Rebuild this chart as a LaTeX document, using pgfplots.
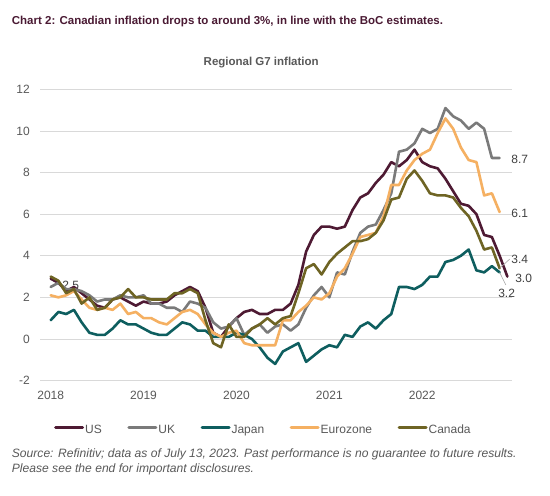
\documentclass[border=0pt]{standalone}
\usepackage{fontspec}
\setmainfont{Liberation Sans}
\usepackage{pgfplots}
\usepackage{pgfplotstable}
\pgfplotsset{compat=1.18}
\definecolor{cUS}{HTML}{4E1A33}
\definecolor{cUK}{HTML}{7A7A7A}
\definecolor{cJP}{HTML}{0E5E5F}
\definecolor{cEZ}{HTML}{F5B062}
\definecolor{cCA}{HTML}{6E6424}
\definecolor{ctitle}{HTML}{4A1A33}
\definecolor{ctxt}{HTML}{595959}
\definecolor{clab}{HTML}{404040}
\definecolor{cgrid}{HTML}{D9D9D9}

% index 0 = Jul 2018, 59 = Jun 2023
\pgfplotstableread{
i US UK JP EZ CA
0 2.9 2.5 0.9 2.1 3.0
1 2.7 2.7 1.3 2.0 2.8
2 2.3 2.4 1.2 2.1 2.2
3 2.5 2.4 1.4 2.3 2.4
4 2.2 2.3 0.8 1.9 1.7
5 1.9 2.1 0.3 1.5 2.0
6 1.6 1.8 0.2 1.4 1.4
7 1.5 1.9 0.2 1.5 1.5
8 1.9 1.9 0.5 1.4 1.9
9 2.0 2.1 0.9 1.7 2.0
10 1.8 2.0 0.7 1.2 2.4
11 1.6 2.0 0.7 1.3 2.0
12 1.8 2.1 0.5 1.0 2.0
13 1.7 1.7 0.3 1.0 1.9
14 1.7 1.7 0.2 0.8 1.9
15 1.8 1.5 0.2 0.7 1.9
16 2.1 1.5 0.5 1.0 2.2
17 2.3 1.3 0.8 1.3 2.2
18 2.5 1.8 0.7 1.4 2.4
19 2.3 1.7 0.4 1.2 2.2
20 1.5 1.5 0.4 0.7 0.9
21 0.3 0.8 0.1 0.3 -0.2
22 0.1 0.5 0.1 0.1 -0.4
23 0.6 0.6 0.1 0.3 0.7
24 1.0 1.0 0.3 0.4 0.1
25 1.3 0.2 0.2 -0.2 0.1
26 1.4 0.5 0.0 -0.3 0.5
27 1.2 0.7 -0.4 -0.3 0.7
28 1.2 0.3 -0.9 -0.3 1.0
29 1.4 0.6 -1.2 -0.3 0.7
30 1.4 0.7 -0.6 0.9 1.0
31 1.7 0.4 -0.4 0.9 1.1
32 2.6 0.7 -0.2 1.3 2.2
33 4.2 1.5 -1.1 1.6 3.4
34 5.0 2.1 -0.8 2.0 3.6
35 5.4 2.5 -0.5 1.9 3.1
36 5.4 2.0 -0.3 2.2 3.7
37 5.3 3.2 -0.4 3.0 4.1
38 5.4 3.1 0.2 3.4 4.4
39 6.2 4.2 0.1 4.1 4.7
40 6.8 5.1 0.6 4.9 4.7
41 7.0 5.4 0.8 5.0 4.8
42 7.5 5.5 0.5 5.1 5.1
43 7.9 6.2 0.9 5.9 5.7
44 8.5 7.0 1.2 7.4 6.7
45 8.3 9.0 2.5 7.4 6.8
46 8.6 9.1 2.5 8.1 7.7
47 9.1 9.4 2.4 8.6 8.1
48 8.5 10.1 2.6 8.9 7.6
49 8.3 9.9 3.0 9.1 7.0
50 8.2 10.1 3.0 9.9 6.9
51 7.7 11.1 3.7 10.6 6.9
52 7.1 10.7 3.8 10.1 6.8
53 6.5 10.5 4.0 9.2 6.3
54 6.4 10.1 4.3 8.6 5.9
55 6.0 10.4 3.3 8.5 5.2
56 5.0 10.1 3.2 6.9 4.3
57 4.9 8.7 3.5 7.0 4.4
58 4.0 8.7 3.2 6.1 3.4
59 3.0 nan nan nan nan
}\data

\begin{document}
\begin{tikzpicture}
\path[use as bounding box, fill=white] (0,0) rectangle (550bp,-496bp);
\node[anchor=base west, inner sep=0pt, text=ctitle, font=\fontsize{11.5bp}{14bp}\selectfont\bfseries] at (11.7bp,-24bp) {Chart 2: Canadian inflation drops to around 3\%, in line with the BoC estimates.};
\node[anchor=base, inner sep=0pt, text=ctxt, font=\fontsize{11.5bp}{14bp}\selectfont\bfseries] at (261.2bp,-65bp) {Regional G7 inflation};
\node[anchor=base west, inner sep=0pt, text=ctxt, font=\fontsize{12.1bp}{14bp}\selectfont\itshape] at (11.7bp,-457bp) {Source: Refinitiv; data as of July 13, 2023. Past performance is no guarantee to future results.};
\node[anchor=base west, inner sep=0pt, text=ctxt, font=\fontsize{12.1bp}{14bp}\selectfont\itshape] at (11.7bp,-472bp) {Please see the end for important disclosures.};
\begin{axis}[
  at={(40bp,-380.6bp)}, anchor=south west,
  scale only axis, width=471.7bp, height=291.3bp,
  xmin=-1.38, xmax=59.56, ymin=-2, ymax=12,
  clip=false,
  axis line style={draw=none},
  ymajorgrids, grid style={cgrid, line width=0.75bp},
  ytick={-2,0,...,12},
  xtick={0,12,24,36,48},
  xticklabels={2018,2019,2020,2021,2022},
  tick pos=left,
  major tick length=0pt,
  /pgf/number format/assume math mode=true,
  ticklabel style={font=\fontsize{12bp}{14bp}\selectfont, text=ctxt, inner sep=0pt},
  yticklabel style={anchor=east, xshift=-10bp},
  xticklabel style={anchor=north, yshift=-10.8bp},
  legend columns=5,
  legend style={at={(0.0297,-0.1696)}, anchor=west, draw=none, fill=none, inner sep=0pt,
    font=\fontsize{12bp}{14bp}\selectfont, text=ctxt,
    nodes={inner sep=1bp},
    /tikz/every even column/.append style={column sep=24.5bp}},
  legend image code/.code={\draw[#1, line width=3bp] (0bp,0.3em) -- (27bp,0.3em);},
  every axis plot/.append style={line width=2.6bp, line join=round, line cap=round},
]
\node[anchor=center, inner sep=0pt, text=clab, font=\fontsize{12bp}{14bp}\selectfont] at (axis cs:2.6,2.56) {2.5};
\addplot[cUS] table[x=i, y=US] {\data};
\addlegendentry{US}
\addplot[cUK] table[x=i, y=UK] {\data};
\addlegendentry{UK}
\addplot[cJP] table[x=i, y=JP] {\data};
\addlegendentry{Japan}
\addplot[cEZ] table[x=i, y=EZ] {\data};
\addlegendentry{Eurozone}
\addplot[cCA] table[x=i, y=CA] {\data};
\addlegendentry{Canada}
\draw[black!35, line width=0.6bp] (axis cs:58,3.4) -- (axis cs:59.3,3.84);
\draw[black!35, line width=0.6bp] (axis cs:58,3.2) -- (axis cs:58.8,2.6);
\node[anchor=west, inner sep=0pt, text=clab, font=\fontsize{12bp}{14bp}\selectfont] at (axis cs:59.5,8.65) {8.7};
\node[anchor=west, inner sep=0pt, text=clab, font=\fontsize{12bp}{14bp}\selectfont] at (axis cs:59.5,6.06) {6.1};
\node[anchor=west, inner sep=0pt, text=clab, font=\fontsize{12bp}{14bp}\selectfont] at (axis cs:59.5,3.84) {3.4};
\node[anchor=west, inner sep=0pt, text=clab, font=\fontsize{12bp}{14bp}\selectfont] at (axis cs:60.0,2.92) {3.0};
\node[anchor=west, inner sep=0pt, text=clab, font=\fontsize{12bp}{14bp}\selectfont] at (axis cs:57.8,2.2) {3.2};
\end{axis}
\end{tikzpicture}
\end{document}
